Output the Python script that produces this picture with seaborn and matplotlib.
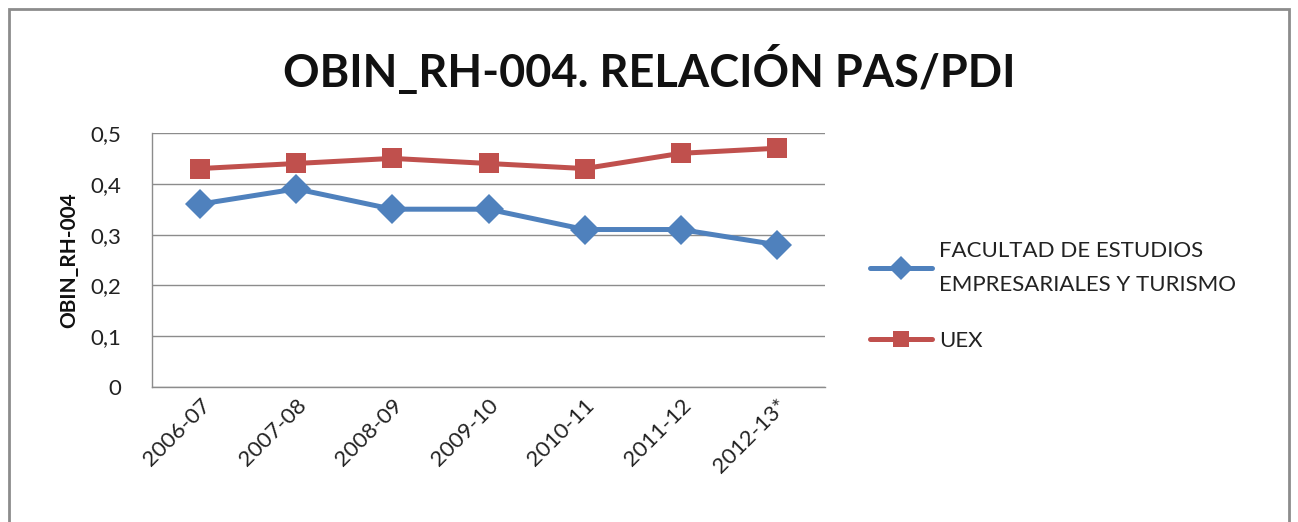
import matplotlib
matplotlib.use("Agg")
import matplotlib.pyplot as plt
import seaborn as sns
import pandas as pd
from matplotlib.patches import Rectangle
from matplotlib.lines import Line2D

years = ["2006-07", "2007-08", "2008-09", "2009-10", "2010-11", "2011-12", "2012-13*"]
facultad = [0.36, 0.39, 0.35, 0.35, 0.31, 0.31, 0.28]
uex = [0.43, 0.44, 0.45, 0.44, 0.43, 0.46, 0.47]
series_names = ["FACULTAD DE ESTUDIOS\nEMPRESARIALES Y TURISMO", "UEX"]
yticks = [0, 0.1, 0.2, 0.3, 0.4, 0.5]
ytick_labels = ["0", "0,1", "0,2", "0,3", "0,4", "0,5"]

sns.set_theme(style="white")
plt.rcParams["font.family"] = ["Lato", "DejaVu Sans"]

df = pd.DataFrame({
    "x": list(range(len(years))) * 2,
    "value": facultad + uex,
    "serie": [series_names[0]] * len(years) + [series_names[1]] * len(years),
})

fig = plt.figure(figsize=(12.98, 5.22), dpi=100)
ax = fig.add_axes([152/1298, 1 - 387/522, (825-152)/1298, (387-133)/522])

sns.lineplot(data=df, x="x", y="value", hue="serie", style="serie",
             markers={series_names[0]: "D", series_names[1]: "s"}, dashes=False,
             palette={series_names[0]: "#4F81BD", series_names[1]: "#C0504D"},
             linewidth=3.6, markersize=15, markeredgewidth=0, ax=ax, legend=False)

ax.set_xlim(-0.5, len(years) - 0.5)
ax.set_ylim(0, 0.5)
ax.set_yticks(yticks)
ax.set_yticklabels(ytick_labels, fontsize=16, color="#222222")
ax.set_xticks(range(len(years)))
ax.set_xticklabels(years, rotation=45, ha="right", rotation_mode="anchor", fontsize=16, color="#222222")
ax.tick_params(axis="x", pad=6, length=0)
ax.tick_params(axis="y", pad=22, length=0)
ax.grid(axis="y", color="#8c8c8c", linewidth=1)
ax.set_axisbelow(True)
for s in ["top", "right"]:
    ax.spines[s].set_visible(False)
for s in ["left", "bottom"]:
    ax.spines[s].set_color("#8c8c8c")
    ax.spines[s].set_linewidth(1)
ax.set_xlabel("")
ax.set_ylabel("OBIN_RH-004", fontsize=15, fontweight="bold", color="#111111", labelpad=8)

fig.text(0.5, 1 - 70/522, "OBIN_RH-004. RELACIÓN PAS/PDI", ha="center", va="center",
         fontsize=32.5, fontweight="bold", color="#111111")

handles = [
    Line2D([], [], color="#4F81BD", lw=3.6, marker="D", markersize=12, markeredgewidth=0),
    Line2D([], [], color="#C0504D", lw=3.6, marker="s", markersize=12, markeredgewidth=0),
]
leg = fig.legend(handles, series_names, loc="center left", bbox_to_anchor=(850/1298, 1 - 296/522),
                 frameon=False, fontsize=16, handlelength=2.8, labelspacing=1.6, handletextpad=0.3)
for t in leg.get_texts():
    t.set_linespacing(1.9)
    t.set_color("#222222")

fig.patches.append(Rectangle((9/1298, -0.1), (1289-9)/1298, 1.1 - 9/522, transform=fig.transFigure,
                             fill=False, edgecolor="#8c8c8c", linewidth=2))

fig.savefig("out.png", dpi=100)
